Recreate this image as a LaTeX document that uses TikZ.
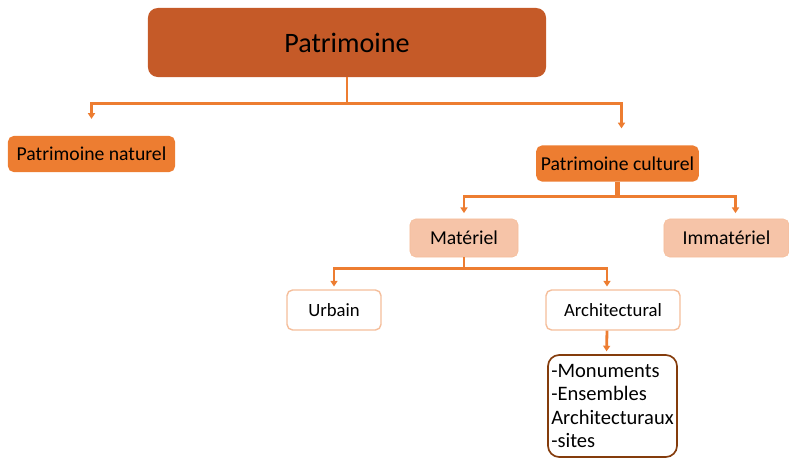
\documentclass[tikz,border=0pt]{standalone}
\usepackage{fontspec}
\setmainfont{Carlito}
\usetikzlibrary{arrows.meta,positioning,calc}
\definecolor{rootorange}{RGB}{197,90,40}
\definecolor{midorange}{RGB}{237,125,49}
\definecolor{paleorange}{RGB}{246,196,168}
\definecolor{rimorange}{RGB}{245,190,155}
\definecolor{darkbrown}{RGB}{132,60,12}

\tikzset{
  rootbox/.style={rectangle,rounded corners=7pt,fill=rootorange,minimum width=9.95cm,minimum height=1.725cm,font=\fontsize{20}{24}\selectfont},
  mainbox/.style={rectangle,rounded corners=4pt,fill=midorange,minimum height=0.9cm,font=\fontsize{14}{17}\selectfont},
  subbox/.style={rectangle,rounded corners=4pt,fill=paleorange,draw=rimorange,minimum height=0.95cm,font=\fontsize{14}{17}\selectfont},
  leafbox/.style={rectangle,rounded corners=4pt,fill=white,draw=rimorange,line width=1pt,minimum height=1cm,font=\fontsize{13.3}{16}\selectfont},
  link/.style={draw=midorange,line width=2pt},
  linkarrow/.style={link,-{Triangle[length=4pt,width=5pt]}}
}

\begin{document}
\begin{tikzpicture}[x=0.025cm,y=-0.025cm]
  \useasboundingbox (0,0) rectangle (789,461);

  % Boxes
  \node[rootbox] (root) at (347,42.5) {Patrimoine};

  \node[mainbox,minimum width=4.175cm] (nat) at (91.5,154) {Patrimoine naturel};
  \node[mainbox,minimum width=4.025cm] (cult) at (617.5,163.5) {Patrimoine culturel};

  \node[subbox,minimum width=2.7cm] (mat) at (464,238) {Matériel};
  \node[subbox,minimum width=3.125cm] (immat) at (726.5,238) {Immatériel};

  \node[leafbox,minimum width=2.35cm] (urb) at (334,310) {Urbain};
  \node[leafbox,minimum width=3.35cm] (arch) at (613,310) {Architectural};

  \node[rectangle,rounded corners=8pt,draw=darkbrown,line width=1.2pt,minimum width=3.225cm,minimum height=2.55cm,
        align=left,inner sep=1pt,font=\fontsize{14.6}{16.8}\selectfont] (list) at (612.5,406)
    {-Monuments\\-Ensembles\\Architecturaux\\-sites};

  % Connectors
  \draw[link] (root.south) -- ++(0,26) coordinate (rootjoin);
  \draw[linkarrow,shorten >=12pt] (rootjoin) -| (nat.north);
  \draw[linkarrow,shorten >=12pt] (rootjoin) -| ($(cult.north)+(4,0)$);

  \draw[link,line width=3pt] (cult.south) -- ++(0,15) coordinate (cultjoin);
  \draw[linkarrow,shorten >=4pt] (cultjoin) -| (mat.north);
  \draw[linkarrow,shorten >=4pt] (cultjoin) -| ($(immat.north)+(9,0)$);

  \draw[link,line width=1pt] (mat.south) -- ++(0,11) coordinate (matjoin);
  \draw[linkarrow,shorten >=2pt] (matjoin) -| (urb.north);
  \draw[linkarrow,shorten >=2pt] (matjoin) -| ($(arch.north)+(-6,0)$);

  \draw[linkarrow,shorten >=2pt] ($(arch.south)+(-6,0)$) -- ($(list.north)+(-6,0)$);

\end{tikzpicture}
\end{document}
